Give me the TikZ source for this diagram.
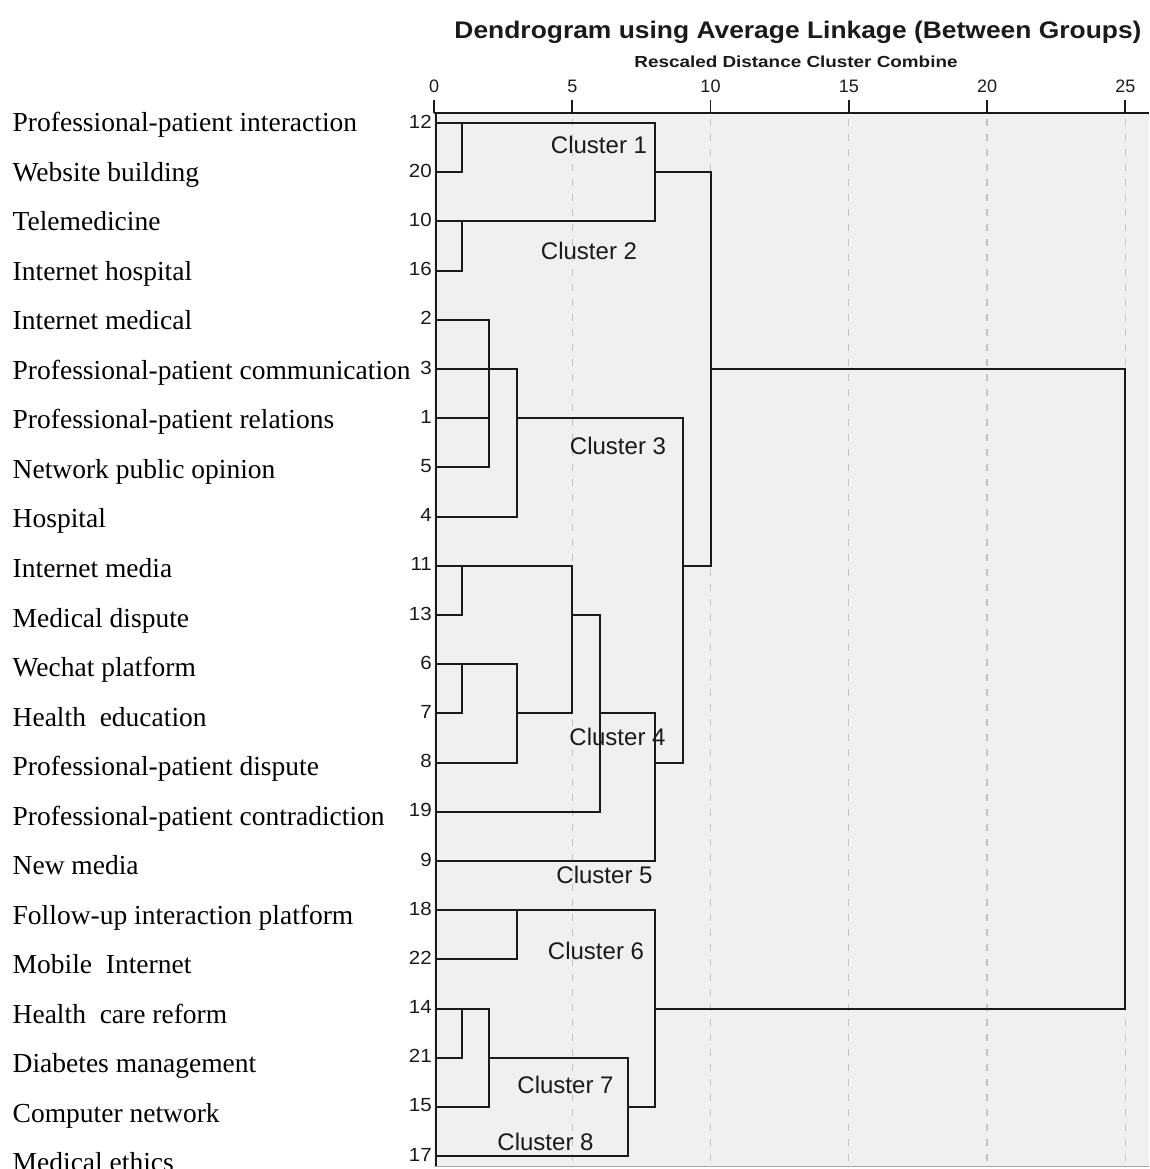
\documentclass[tikz,border=0pt]{standalone}
\usepackage{fontspec}
\setmainfont{Liberation Serif}
\newfontfamily\arialfont{Liberation Sans}
\definecolor{panelbg}{HTML}{F0F0F0}
\definecolor{gridgray}{HTML}{C4C4C4}
\definecolor{inkblack}{HTML}{1A1A1A}
\begin{document}
\begin{tikzpicture}[x=1pt,y=-1pt,
  dline/.style={line width=2pt, draw=inkblack, line cap=rect, line join=miter},
  gridline/.style={line width=1.3pt, draw=gridgray, dash pattern=on 7pt off 8pt},
  leaflabel/.style={anchor=base west, inner sep=0pt, font=\fontsize{27.5}{27.5}\selectfont, text=black},
  leafnum/.style={anchor=east, inner sep=0pt, font=\arialfont\fontsize{19}{19}\selectfont, text=inkblack},
  ticklabel/.style={anchor=base, inner sep=0pt, font=\arialfont\fontsize{18}{18}\selectfont, text=inkblack},
  clusterlabel/.style={anchor=base, inner sep=0pt, font=\arialfont\fontsize{24}{24}\selectfont, text=inkblack}]
\useasboundingbox (0,0) rectangle (1149,1169);
\clip (0,0) rectangle (1149,1169);
% panel
\fill[panelbg] (434,113) rectangle (1149,1166);
\draw[line width=1.2pt, draw=gray!70] (434,1166.5) -- (1149,1166.5);
% distance levels
\coordinate (d0) at (434,113);
\coordinate (d1) at (461.65,113);
\coordinate (d2) at (489.3,113);
\coordinate (d3) at (516.95,113);
\coordinate (d5) at (572.25,113);
\coordinate (d6) at (599.9,113);
\coordinate (d7) at (627.55,113);
\coordinate (d8) at (655.2,113);
\coordinate (d9) at (682.85,113);
\coordinate (d10) at (710.5,113);
\coordinate (d15) at (848.75,113);
\coordinate (d20) at (987,113);
\coordinate (d25) at (1125.25,113);
\coordinate (axend) at (1149,113);
\coordinate (bottom) at (436,1166);
% grid
\foreach \g in {d5,d10,d15,d20,d25} \draw[gridline] ([yshift=-6pt]\g) -- (\g |- bottom);
% axis
\draw[line width=2pt, draw=inkblack] (d0) -- (axend);
\foreach \g/\v in {d0/0,d5/5,d10/10,d15/15,d20/20,d25/25}{
  \draw[line width=1.6pt, draw=inkblack] (\g) -- ++(0,-13);
  \node[ticklabel] (t\v) at ([yshift=20pt]\g) {\v};
}
% titles
\node[anchor=base, inner sep=0pt, font=\arialfont\bfseries\fontsize{24}{24}\selectfont, text=inkblack] (title) at (798,39) {\scalebox{1.1}[1]{Dendrogram using Average Linkage (Between Groups)}};
\node[anchor=base, inner sep=0pt, font=\arialfont\bfseries\fontsize{16}{16}\selectfont, text=inkblack] (subtitle) at (796,68) {\scalebox{1.18}[1]{Rescaled Distance Cluster Combine}};
% rows
\foreach \i in {0,...,21} \coordinate (r\i) at (436,{123+49.2*\i});
\foreach \n [count=\i from 0] in {12,20,10,16,2,3,1,5,4,11,13,6,7,8,19,9,18,22,14,21,15,17}
  \node[leafnum] (n\i) at ([xshift=-4pt,yshift=1.5pt]r\i) {\scalebox{1.08}[1]{\n}};
\foreach \t [count=\i from 0] in {Professional-patient interaction,Website building,Telemedicine,Internet hospital,Internet medical,Professional-patient communication,Professional-patient relations,Network public opinion,Hospital,Internet media,Medical dispute,Wechat platform,Health~~education,Professional-patient dispute,Professional-patient contradiction,New media,Follow-up interaction platform,Mobile~~Internet,Health~~care reform,Diabetes management,Computer network,Medical ethics}
  \node[leaflabel] (lab\i) at (12.5,{131.7+49.53*\i}) {\t};
% left border
\draw[dline, line cap=butt] (r0 |- d0) -- (bottom);
% clusters 1 and 2
\draw[dline] (r0) -- (r0 -| d8) -- (r2 -| d8) -- (r2);
\draw[dline] (r1) -- (r1 -| d1) -- (r0 -| d1);
\draw[dline] (r3) -- (r3 -| d1) -- (r2 -| d1);
\draw[dline] (r1 -| d8) -- (r1 -| d10) -- (r9 -| d10);
% cluster 3
\draw[dline] (r4) -- (r4 -| d2) -- (r7 -| d2) -- (r7);
\draw[dline] (r6) -- (r6 -| d2);
\draw[dline] (r5) -- (r5 -| d3) -- (r8 -| d3) -- (r8);
\draw[dline] (r6 -| d3) -- (r6 -| d9) -- (r13 -| d9) -- (r13 -| d8);
\draw[dline] (r9 -| d9) -- (r9 -| d10);
% clusters 4 and 5
\draw[dline] (r9) -- (r9 -| d5) -- (r12 -| d5) -- (r12 -| d3);
\draw[dline] (r10) -- (r10 -| d1) -- (r9 -| d1);
\draw[dline] (r11) -- (r11 -| d3) -- (r13 -| d3) -- (r13);
\draw[dline] (r12) -- (r12 -| d1) -- (r11 -| d1);
\draw[dline] (r10 -| d5) -- (r10 -| d6) -- (r14 -| d6) -- (r14);
\draw[dline] (r12 -| d6) -- (r12 -| d8) -- (r15 -| d8) -- (r15);
% clusters 6, 7 and 8
\draw[dline] (r16) -- (r16 -| d8) -- (r20 -| d8) -- (r20 -| d7);
\draw[dline] (r17) -- (r17 -| d3) -- (r16 -| d3);
\draw[dline] (r18) -- (r18 -| d2) -- (r20 -| d2) -- (r20);
\draw[dline] (r19) -- (r19 -| d1) -- (r18 -| d1);
\draw[dline] (r19 -| d2) -- (r19 -| d7) -- (r21 -| d7) -- (r21);
% top level
\draw[dline] (r5 -| d10) -- (r5 -| d25) -- (r18 -| d25) -- (r18 -| d8);
% cluster labels
\node[clusterlabel] (c1) at (599,154) {Cluster 1};
\node[clusterlabel] (c2) at (589,259) {Cluster 2};
\node[clusterlabel] (c3) at (618,454) {Cluster 3};
\node[clusterlabel] (c4) at (617.5,745) {Cluster 4};
\node[clusterlabel] (c5) at (604.5,883.3) {Cluster 5};
\node[clusterlabel] (c6) at (596,959.3) {Cluster 6};
\node[clusterlabel] (c7) at (565.5,1093.3) {Cluster 7};
\node[clusterlabel] (c8) at (545.5,1150) {Cluster 8};
\end{tikzpicture}
\end{document}
